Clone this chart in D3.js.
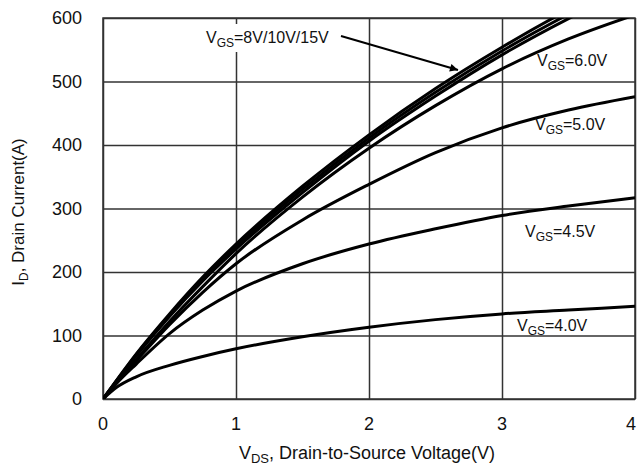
<!DOCTYPE html>
<html>
  <head>
    <meta charset="utf-8" />
    <script src="https://cdn.jsdelivr.net/npm/d3@7"></script>
    <style>
      body { margin: 0; background: #fff; }
      .grid line, .grid path { stroke: #333; stroke-width: 1.5; }
      .curve { fill: none; stroke: #000; stroke-width: 3; }
      text { font-family: "Liberation Sans", Arial, sans-serif; fill: #111; }
    </style>
  </head>
  <body>
    <div id="chart"></div>
    <script type="text/javascript">
      var W = 638, H = 466;
      var m = {left: 103, top: 18, right: 3, bottom: 67};
      var w = W - m.left - m.right, h = H - m.top - m.bottom;

      // drain-source voltage sample points (V)
      var vds = [0, 0.1, 0.25, 0.5, 0.75, 1, 1.5, 2, 2.5, 3, 3.5, 4];
      // drain current (A) per gate voltage
      var id40 = [0, 18, 35, 53, 67, 79, 98, 113, 125, 134, 140, 146];
      var id45 = [0, 24, 55, 103, 140, 170, 213, 244, 268, 289, 304, 317];
      var id50 = [0, 25, 60, 117, 168, 213, 282, 338, 388, 427, 455, 476];
      var id60 = [0, 26, 62, 122, 177, 229, 318, 395, 462, 520, 567, 605];
      var id8  = [0, 28, 68, 130, 186, 236, 325, 406, 477, 542, 599, 650];
      var id10 = [0, 28, 70, 132, 189, 240, 330, 411, 483, 548, 606, 658];
      var id15 = [0, 29, 71, 134, 192, 244, 335, 416, 489, 554, 613, 665];
      var xTicks = [0, 1, 2, 3, 4];
      var yTicks = [0, 100, 200, 300, 400, 500, 600];

      var series = [id40, id45, id50, id60, id8, id10, id15];

      var x = d3.scaleLinear().domain([0, 4]).range([0, w]);
      var y = d3.scaleLinear().domain([0, 600]).range([h, 0]);

      var svg = d3.select("#chart").append("svg")
        .attr("width", W).attr("height", H);

      var g = svg.append("g")
        .attr("transform", "translate(" + m.left + "," + m.top + ")");

      // grid from axes
      g.append("g").attr("class", "grid")
        .attr("transform", "translate(0," + h + ")")
        .call(d3.axisBottom(x).tickValues(xTicks).tickSize(-h).tickFormat(""))
        .select(".domain").remove();
      g.append("g").attr("class", "grid")
        .call(d3.axisLeft(y).tickValues(yTicks).tickSize(-w).tickFormat(""))
        .select(".domain").remove();
      g.append("rect").attr("width", w).attr("height", h)
        .attr("fill", "none").attr("stroke", "#333").attr("stroke-width", 1.5);

      // tick labels
      g.selectAll(".xl").data(xTicks).enter().append("text")
        .attr("x", function(d) { return Math.min(x(d), w - 4); })
        .attr("y", h + 31)
        .attr("text-anchor", "middle")
        .attr("font-size", 18)
        .text(function(d) { return d; });
      g.selectAll(".yl").data(yTicks).enter().append("text")
        .attr("x", -21)
        .attr("y", function(d) { return y(d) + 6; })
        .attr("text-anchor", "end")
        .attr("font-size", 18)
        .text(function(d) { return d; });

      // axis titles
      var xt = svg.append("text")
        .attr("x", 367).attr("y", 459)
        .attr("text-anchor", "middle")
        .attr("font-size", 18);
      xt.append("tspan").text("V");
      xt.append("tspan").attr("font-size", 13).attr("dy", 4).text("DS");
      xt.append("tspan").attr("dy", -4).text(", Drain-to-Source Voltage(V)");

      var yt = svg.append("text")
        .attr("transform", "translate(24,212) rotate(-90)")
        .attr("text-anchor", "middle")
        .attr("font-size", 17);
      yt.append("tspan").text("I");
      yt.append("tspan").attr("font-size", 12).attr("dy", 4).text("D");
      yt.append("tspan").attr("dy", -4).text(", Drain Current(A)");

      // curves
      svg.append("defs").append("clipPath").attr("id", "clip")
        .append("rect").attr("width", w).attr("height", h);

      var line = d3.line()
        .x(function(d, i) { return x(vds[i]); })
        .y(function(d) { return y(d); })
        .curve(d3.curveMonotoneX);

      g.append("g").attr("clip-path", "url(#clip)")
        .selectAll("path").data(series).enter().append("path")
        .attr("class", "curve")
        .attr("stroke-width", function(d, i) { return i >= 4 ? 4 : 3; })
        .attr("d", line);

      // labels
      function vgsLabel(px, py, val) {
        var t = svg.append("text").attr("x", px).attr("y", py).attr("font-size", 16);
        t.append("tspan").text("V");
        t.append("tspan").attr("font-size", 12).attr("dy", 4).text("GS");
        t.append("tspan").attr("dy", -4).text("=" + val);
        return t;
      }

      svg.append("rect").attr("x", 205).attr("y", 24)
        .attr("width", 133).attr("height", 28).attr("fill", "#fff");
      vgsLabel(206, 43, "8V/10V/15V");
      vgsLabel(537, 66, "6.0V");
      vgsLabel(535, 130, "5.0V");
      vgsLabel(525, 237, "4.5V");
      vgsLabel(517, 331, "4.0V");

      // arrow
      svg.select("defs").append("marker")
        .attr("id", "arr").attr("viewBox", "0 0 10 10")
        .attr("refX", 10).attr("refY", 5)
        .attr("markerWidth", 11).attr("markerHeight", 8)
        .attr("markerUnits", "userSpaceOnUse")
        .attr("orient", "auto")
        .append("path").attr("d", "M0,0L10,5L0,10z").attr("fill", "#000");
      svg.append("line")
        .attr("x1", 341).attr("y1", 36).attr("x2", 458).attr("y2", 70)
        .attr("stroke", "#000").attr("stroke-width", 2)
        .attr("marker-end", "url(#arr)");
    </script>
  </body>
</html>
